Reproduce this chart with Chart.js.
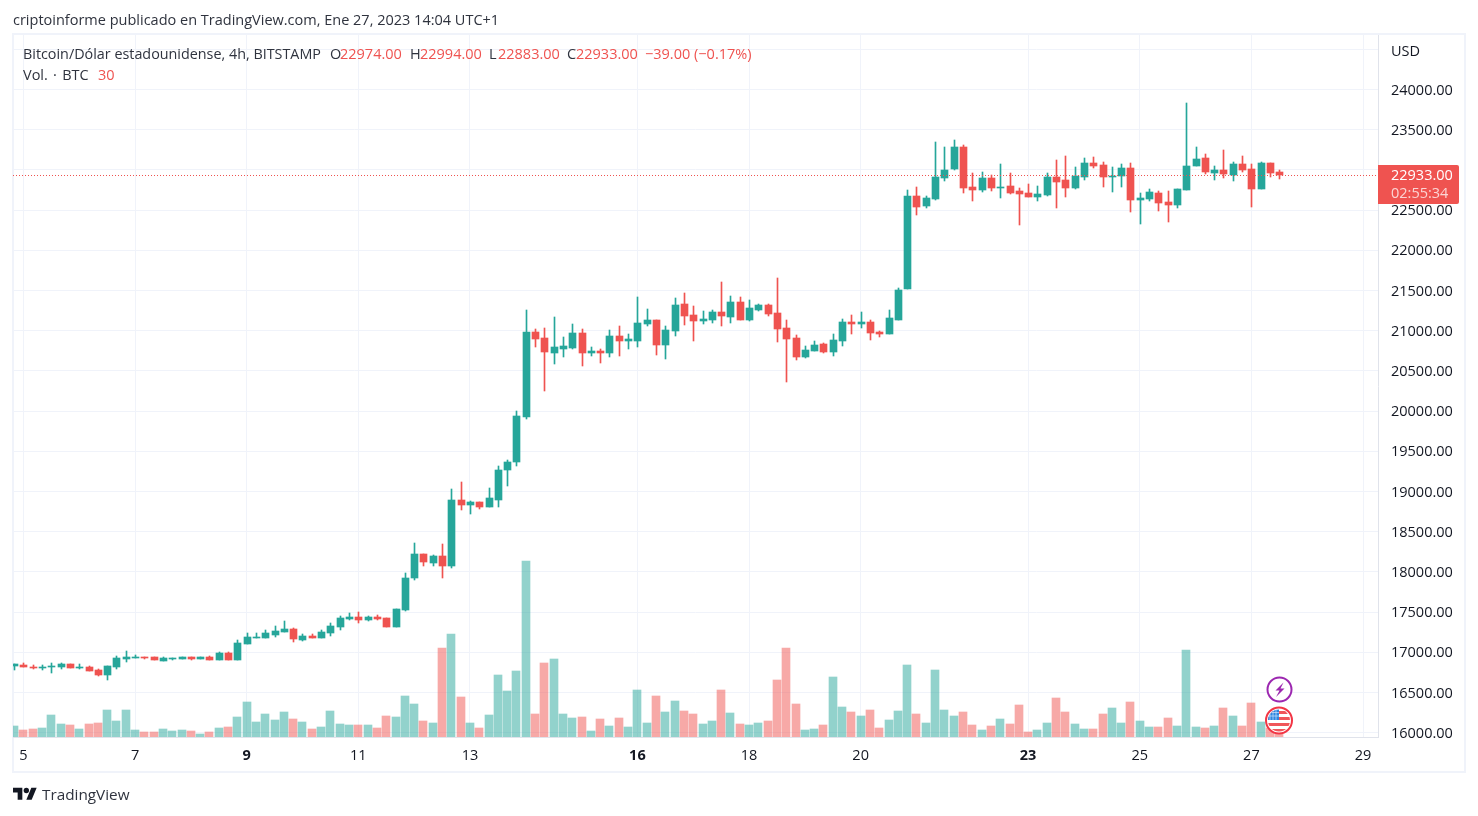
<!DOCTYPE html>
<html lang="es">
<head>
<meta charset="utf-8">
<title>Bitcoin/Dólar estadounidense</title>
<script src="https://cdn.jsdelivr.net/npm/chart.js@4/dist/chart.umd.min.js"></script>
<style>
html,body{margin:0;padding:0;background:#fff;overflow:hidden}
#wrap{position:relative;width:1478px;height:816px;font-family:"Open Sans",sans-serif;font-size:14.5px;color:#131722}
#frame{position:absolute;left:12px;top:33px;width:1450px;height:736px;border:2px solid #f0f3fa}
canvas{position:absolute;left:0;top:0}
.t{position:absolute;white-space:nowrap;line-height:18px}
.r{color:#ef5350}
.g{color:#2f333e}
#tag{position:absolute;left:1378px;top:165px;width:81px;height:39px;background:#ef5350;border-radius:0 2px 2px 0}
</style>
</head>
<body>
<div id="wrap">
<div id="frame"></div>
<canvas id="c" width="1478" height="816"></canvas>
<div class="t g" style="left:13px;top:11px">criptoinforme publicado en TradingView.com, Ene 27, 2023 14:04 UTC+1</div>
<div class="t g" style="left:23px;top:45px;font-size:14.35px">Bitcoin/Dólar estadounidense, 4h, BITSTAMP</div>
<div class="t g" style="left:330px;top:45px">O</div><div class="t r" style="left:340px;top:45px">22974.00</div>
<div class="t g" style="left:410px;top:45px">H</div><div class="t r" style="left:420px;top:45px">22994.00</div>
<div class="t g" style="left:489px;top:45px">L</div><div class="t r" style="left:498px;top:45px">22883.00</div>
<div class="t g" style="left:567px;top:45px">C</div><div class="t r" style="left:576px;top:45px">22933.00</div>
<div class="t r" style="left:645px;top:45px">−39.00 (−0.17%)</div>
<div class="t g" style="left:23px;top:66px;word-spacing:1.5px">Vol. · BTC</div>
<div class="t r" style="left:98px;top:66px">30</div>
<div id="tag"></div>
<div class="t" style="left:1391px;top:166px;color:#fff">22933.00</div>
<div class="t" style="left:1391px;top:184px;color:#fff;opacity:.75">02:55:34</div>
<svg style="position:absolute;left:13px;top:785px" width="24" height="19" viewBox="0 0 36 28"><path fill="#131722" d="M14 22H7V11H0V4h14v18zM28 22h-8l7.5-18h8L28 22z"/><circle fill="#131722" cx="20" cy="8" r="4"/></svg>
<div class="t g" style="left:42px;top:785px;font-size:15.3px">TradingView</div>
<svg style="position:absolute;left:1262px;top:672px" width="36" height="66" viewBox="0 0 36 66">
  <circle cx="17.5" cy="17.5" r="12" fill="#fff" stroke="#9c27b0" stroke-width="2"/>
  <path d="M21.5 10.5l-8 8h4l-3.5 6.5 8.5-8.5h-4z" fill="#9c27b0"/>
  <clipPath id="fc"><circle cx="17" cy="48.5" r="11"/></clipPath>
  <circle cx="17" cy="48.5" r="13" fill="#fff" stroke="#f23645" stroke-width="2"/>
  <g clip-path="url(#fc)">
    <rect x="5" y="37" width="24" height="24" fill="#fff"/>
    <rect x="5" y="39" width="24" height="3" fill="#f0565a"/>
    <rect x="5" y="45" width="24" height="3" fill="#f0565a"/>
    <rect x="5" y="51" width="24" height="3" fill="#f0565a"/>
    <rect x="5" y="57" width="24" height="3" fill="#f0565a"/>
    <rect x="5" y="37" width="12" height="11" fill="#2d86e0"/>
    <path d="M8 37v11M11 37v11M14 37v11M5 40.5h12M5 44h12" stroke="#cfe4fa" stroke-width=".7"/>
  </g>
</svg>
</div>
<script>
const opens = [16827,16847,16823,16810,16823,16823,16860,16810,16823,16785,16723,16823,16922,16934,16947,16947,16897,16922,16922,16947,16922,16947,16910,16997,16910,17109,17183,17183,17221,17258,17295,17158,17208,17183,17245,17320,17420,17444,17407,17444,17432,17320,17527,
17929,18228,18116,18203,18078,18900,18838,18875,18813,18900,19273,19361,19921,20979,20909,20723,20772,20785,20971,20723,20747,20723,20934,20872,20872,21083,21133,20822,20996,21332,21195,21121,21133,21233,21170,21357,21133,21257,21320,21220,21034,20909,20673,20747,20835,20735,20872,21108,21083,21108,20984,20959,21135,21521,
22680,22554,22642,22904,23016,23291,22791,22754,22904,22779,22804,22742,22717,22667,22692,22916,22879,22779,22916,23091,23066,22916,22929,23029,22629,22642,22717,22604,22567,22754,23054,23153,22966,23004,22941,23078,23016,22766,23091,22974];
const highs = [16860,16872,16843,16839,16868,16872,16860,16860,16835,16798,16835,16959,17022,16972,16947,16947,16947,16934,16947,16947,16947,16959,17009,17009,17158,17245,17245,17283,17333,17395,17308,17233,17233,17283,17370,17457,17494,17507,17457,17469,17432,17544,17992,
18365,18228,18215,18352,19037,19112,18888,18875,19049,19311,19386,19996,21253,21016,21034,21170,20922,21083,21021,20797,20772,21009,21058,20959,21419,21270,21133,21058,21407,21469,21307,21245,21257,21606,21432,21419,21382,21332,21332,21655,21133,20946,20810,20872,20847,20959,21145,21195,21233,21133,20996,21257,21533,22753,
22791,22680,23341,23291,23366,23316,22966,22979,22941,23078,22966,22779,22829,22804,22966,23128,23178,23041,23153,23166,23103,23041,23078,23091,22717,22766,22742,22742,22766,23827,23291,23203,23054,23253,23103,23178,23078,23103,23091,22994];
const lows = [16777,16814,16789,16785,16748,16798,16810,16798,16773,16711,16661,16798,16885,16934,16922,16910,16897,16910,16922,16910,16922,16910,16910,16910,16910,17109,17183,17183,17196,17258,17133,17146,17183,17183,17208,17283,17407,17370,17395,17407,17320,17320,17519,
17904,18078,18078,17929,18053,18775,18726,18788,18813,18813,19074,19323,19896,20792,20250,20586,20673,20772,20561,20685,20598,20673,20685,20772,20797,21058,20698,20648,20934,21071,20872,21083,21096,21058,21096,21133,21121,21245,21183,20859,20362,20636,20660,20747,20723,20685,20810,20959,21034,20884,20922,20959,21135,21521,
22442,22529,22629,22866,23004,22717,22617,22729,22742,22654,22704,22317,22667,22617,22679,22529,22667,22767,22879,23029,22791,22729,22791,22479,22330,22617,22492,22355,22529,22754,23054,22954,22879,22904,22866,22979,22542,22766,22916,22883];
const closes = [16852,16814,16802,16823,16835,16860,16810,16823,16773,16723,16835,16934,16947,16947,16934,16910,16934,16934,16947,16922,16947,16910,16997,16910,17121,17196,17196,17245,17270,17295,17171,17208,17183,17258,17333,17432,17444,17407,17444,17420,17320,17544,17930,
18228,18128,18203,18078,18900,18838,18875,18813,18925,19273,19361,19933,20979,20892,20735,20797,20810,20971,20723,20747,20723,20934,20872,20897,21096,21133,20822,21009,21320,21183,21121,21145,21233,21183,21357,21133,21282,21320,21208,21021,20897,20673,20760,20822,20735,20884,21108,21083,21108,20971,20959,21158,21508,22679,
22542,22654,22916,23004,23291,22779,22754,22904,22779,22791,22717,22704,22667,22704,22916,22854,22779,22929,23091,23054,22916,22929,23029,22629,22654,22729,22592,22567,22766,23054,23141,22979,23004,22954,23078,23004,22766,23091,22966,22933];
const volumes = [83,53,60,68,165,98,90,60,98,105,203,120,203,53,38,38,60,45,53,45,23,38,68,75,150,263,113,173,128,188,135,113,60,75,195,98,90,90,90,68,158,150,308,248,120,105,668,773,300,105,68,165,465,345,495,1320,173,555,585,173,143,150,45,135,83,143,75,353,105,308,188,270,195,173,98,120,353,180,98,90,105,120,428,668,248,53,60,90,450,225,188,158,203,68,128,195,540,173,105,503,203,158,188,90,53,83,135,98,240,38,53,105,293,188,98,60,60,173,218,105,263,120,75,75,143,83,653,75,68,83,218,158,83,255,113,68,30];
const lastPrice = 22933;
const xTickIdx = [1,13,25,37,49,67,79,91,109,121,133,145];
const xTickLabels = ['5','7','9','11','13','16','18','20','23','25','27','29'];
const xBoldLabels = ['9','16','23'];
const yTicks = [16000,16500,17000,17500,18000,18500,19000,19500,20000,20500,21000,21500,22000,22500,23000,23500,24000,24500];
const yCoveredLabels = [23000];

const GREEN = '#26a69a', RED = '#ef5350';
const GREEN_V = 'rgba(38,166,154,0.5)', RED_V = 'rgba(239,83,80,0.5)';
const idx = opens.map((_, i) => i);
const isUp = idx.map(i => closes[i] >= opens[i]);
const candleColors = isUp.map(u => u ? GREEN : RED);
const volColors = isUp.map(u => u ? GREEN_V : RED_V);
const X_MIN = -0.118, X_MAX = 146.61;
const FONT = '"Open Sans", sans-serif';

const snapPlugin = {
  id: 'snap',
  beforeDatasetsDraw(chart) {
    chart.data.datasets.forEach((ds, di) => {
      const meta = chart.getDatasetMeta(di);
      if (ds.snap === 'line') {
        meta.data.forEach(p => { p.y = Math.round(p.y) + 0.5; });
        return;
      }
      meta.data.forEach(el => {
        const n = Math.round(el.x);
        el.x = ds.snap === 'vol' ? n : n + 0.5;
        el.y = Math.round(el.y);
        el.base = Math.round(el.base);
        if (el.y === el.base) el.y = el.base - 1;
      });
    });
  }
};
const labelNudgePlugin = {
  id: 'labelNudge',
  beforeDraw(chart) {
    const s = chart.scales.y;
    s.getLabelItems(chart.chartArea).forEach(it => {
      if (it._nudged) return;
      it._nudged = true;
      it.textOffset += it.label === 'USD' ? 2.5 : 1;
    });
  }
};
const maskPlugin = {
  id: 'mask',
  afterDraw(chart) {
    const a = chart.chartArea, c = chart.ctx;
    c.save();
    c.fillStyle = '#fff';
    c.fillRect(a.right + 1, a.bottom + 1, 85, 9);
    c.restore();
  }
};

new Chart(document.getElementById('c'), {
  type: 'bar',
  plugins: [snapPlugin, labelNudgePlugin, maskPlugin],
  data: {
    datasets: [
      { type: 'line', label: 'Último', snap: 'line', order: 0, yAxisID: 'y',
        data: [{x: X_MIN, y: lastPrice}, {x: X_MAX, y: lastPrice}],
        borderColor: RED, borderWidth: 1, borderDash: [1, 2], pointRadius: 0, fill: false },
      { label: 'Cuerpo', snap: 'body', order: 1, yAxisID: 'y', barThickness: 7,
        data: idx.map(i => ({x: i, y: [opens[i], closes[i]]})), backgroundColor: candleColors },
      { label: 'Mecha', snap: 'wick', order: 2, yAxisID: 'y', barThickness: 1,
        data: idx.map(i => ({x: i, y: [lows[i], highs[i]]})), backgroundColor: candleColors },
      { label: 'Vol', snap: 'vol', order: 3, yAxisID: 'v', barThickness: 8,
        data: idx.map(i => ({x: i, y: volumes[i]})), backgroundColor: volColors }
    ]
  },
  options: {
    responsive: false,
    animation: false,
    events: [],
    layout: { padding: { left: 13, top: 35, right: 13, bottom: 44 } },
    datasets: { bar: { grouped: false, borderWidth: 0, borderSkipped: false } },
    plugins: { legend: { display: false }, tooltip: { enabled: false }, title: { display: false } },
    scales: {
      x: {
        type: 'linear', min: X_MIN, max: X_MAX, offset: false,
        grid: { offset: false, color: '#f0f3fa', lineWidth: 1, drawTicks: false },
        border: { display: true, color: '#e0e3eb', width: 1 },
        afterBuildTicks(s) { s.ticks = xTickIdx.map(v => ({value: v})); },
        afterFit(s) { s.height = 35; },
        ticks: {
          autoSkip: false, maxRotation: 0, padding: 10, color: '#131722',
          font: ctx => ({ family: FONT, size: 14.5,
            weight: xBoldLabels.includes(xTickLabels[xTickIdx.indexOf(ctx.tick ? ctx.tick.value : -1)]) ? 'bold' : 'normal' }),
          callback: v => xTickLabels[xTickIdx.indexOf(v)]
        }
      },
      y: {
        type: 'linear', position: 'right', min: 15946.5, max: 24678,
        grid: { color: '#f0f3fa', lineWidth: 1, drawTicks: false },
        border: { display: true, color: '#e0e3eb', width: 1 },
        afterBuildTicks(s) { s.ticks = yTicks.map(v => ({value: v})); },
        afterFit(s) { s.width = 87; },
        ticks: {
          autoSkip: false, padding: 13, color: '#131722', font: { family: FONT, size: 14.5 },
          callback: v => v === 24500 ? 'USD' : (yCoveredLabels.includes(v) ? '' : v.toFixed(2))
        }
      },
      v: { type: 'linear', display: false, min: 0, max: 5265, grid: { display: false } }
    }
  }
});
</script>
</body>
</html>
